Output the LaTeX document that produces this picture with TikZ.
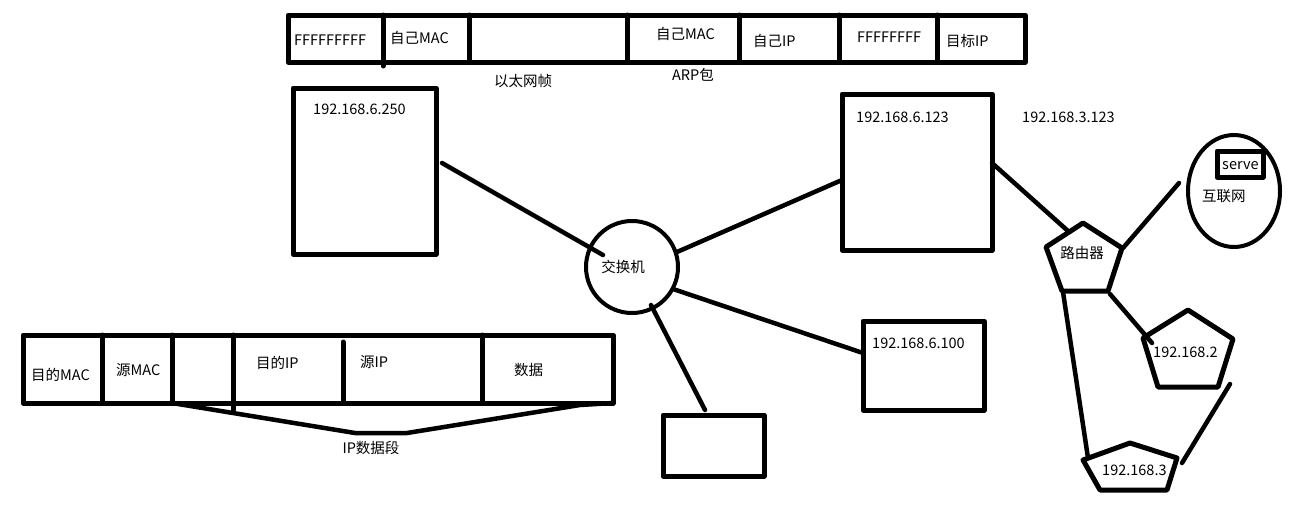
\documentclass[tikz,border=0pt]{standalone}
\usepackage{fontspec}
\setmainfont{Noto Sans CJK SC}
\usepackage{tikz}
\usepackage{tkz-euclide}
\tikzset{
	lbl/.style={anchor=west, inner sep=0pt, font=\fontsize{14.5}{16}\selectfont},
	clbl/.style={inner sep=0pt, font=\fontsize{14.5}{16}\selectfont},
	boxline/.style={line width=5pt},
	linkline/.style={line width=4.5pt, line cap=round},
}

\begin{document}
\begin{tikzpicture}[x=1pt,y=-1pt]
	\useasboundingbox (0,0) rectangle (1298,530);
	
	\tkzDefPoint(288,15){A1}; \tkzDefPoint(1025,15){A2};
	\tkzDefPoint(1025,62){A3}; \tkzDefPoint(288,62){A4};
	\tkzDrawPolygon[boxline](A1,A2,A3,A4);
	\foreach \x in {469,627,739,839,937}{
		\tkzDefPoint(\x,15){U}; \tkzDefPoint(\x,62){D};
		\tkzDrawSegment[boxline](U,D);
	}
	\tkzDefPoint(383,15){U0}; \tkzDefPoint(383,66){D0};
	\tkzDrawSegment[boxline](U0,D0);
	
	\node[lbl] (ff1) at (294,40) {FFFFFFFFF};
	\node[lbl] (mac1) at (390,38) {自己MAC};
	\node[lbl] (mac2) at (656,34) {自己MAC};
	\node[lbl] (ip1) at (753,41) {自己IP};
	\node[lbl] (ff2) at (857,37) {FFFFFFFF};
	\node[lbl] (ip2) at (946,41) {目标IP};
	\node[clbl] (eth) at (523,81) {以太网帧};
	\node[clbl] (arp) at (693,75) {ARP包};
	
	\tkzDefPoint(293,88){B1}; \tkzDefPoint(436,88){B2};
	\tkzDefPoint(436,254){B3}; \tkzDefPoint(293,254){B4};
	\tkzDrawPolygon[boxline](B1,B2,B3,B4);
	\node[lbl] (h250) at (313,109) {192.168.6.250};
	
	\tkzDefPoint(842,94){C1}; \tkzDefPoint(992,94){C2};
	\tkzDefPoint(992,250){C3}; \tkzDefPoint(842,250){C4};
	\tkzDrawPolygon[boxline](C1,C2,C3,C4);
	\node[lbl] (h123) at (856,117) {192.168.6.123};
	\node[lbl] (n3) at (1022,117) {192.168.3.123};
	
	\tkzDefPoint(863,321){E1}; \tkzDefPoint(984,321){E2};
	\tkzDefPoint(984,410){E3}; \tkzDefPoint(863,410){E4};
	\tkzDrawPolygon[boxline](E1,E2,E3,E4);
	\node[lbl] (h100) at (872,343) {192.168.6.100};
	
	\tkzDefPoint(663,415){F1}; \tkzDefPoint(764,415){F2};
	\tkzDefPoint(764,476){F3}; \tkzDefPoint(663,476){F4};
	\tkzDrawPolygon[boxline](F1,F2,F3,F4);
	
	\tkzDefPoint(632,267){S};
	\draw[line width=4pt] (S) circle [radius=46];
	\node[clbl] (sw) at (623,267) {交换机};
	
	\tkzDefPoint(442,163){L1}; \tkzDefPoint(603,255){S1};
	\tkzDefPoint(677,252){S2}; \tkzDefPoint(842,180){L2};
	\tkzDefPoint(673,289){S3}; \tkzDefPoint(863,353){L3};
	\tkzDefPoint(651,305){S4}; \tkzDefPoint(705,410){L4};
	\tkzDrawSegments[linkline](L1,S1 S2,L2 S3,L3 S4,L4);
	
	\tkzDefPoint(1083,223){R1}; \tkzDefPoint(1122,248){R2};
	\tkzDefPoint(1108,291){R3}; \tkzDefPoint(1062,291){R4};
	\tkzDefPoint(1046,247){R5};
	\tkzDrawPolygon[boxline](R1,R2,R3,R4,R5);
	\node[clbl] (rt) at (1082,253) {路由器};
	
	\tkzDefPoint(1234,191){I};
	\draw[line width=4pt] (I) ellipse [x radius=46, y radius=56];
	\tkzDefPoint(1217,151){V1}; \tkzDefPoint(1263,151){V2};
	\tkzDefPoint(1263,177){V3}; \tkzDefPoint(1217,177){V4};
	\tkzDrawPolygon[boxline](V1,V2,V3,V4);
	\node[lbl] (srv) at (1222,166) {serve};
	\node[lbl] (net) at (1202,196) {互联网};
	
	\tkzDefPoint(1188,310){P1}; \tkzDefPoint(1233,339){P2};
	\tkzDefPoint(1218,387){P3}; \tkzDefPoint(1158,387){P4};
	\tkzDefPoint(1143,338){P5};
	\tkzDrawPolygon[boxline](P1,P2,P3,P4,P5);
	\node[lbl] (n2) at (1153,352) {192.168.2};
	
	\tkzDefPoint(1130,443){Q1}; \tkzDefPoint(1177,458){Q2};
	\tkzDefPoint(1167,490){Q3}; \tkzDefPoint(1100,490){Q4};
	\tkzDefPoint(1083,460){Q5};
	\tkzDrawPolygon[boxline](Q1,Q2,Q3,Q4,Q5);
	\node[lbl] (n3b) at (1102,470) {192.168.3};
	
	\tkzDefPoint(992,163){L5}; \tkzDefPoint(1068,231){R6};
	\tkzDefPoint(1123,248){R7}; \tkzDefPoint(1179,183){I1};
	\tkzDefPoint(1110,294){R8}; \tkzDefPoint(1152,343){P6};
	\tkzDefPoint(1063,292){R9}; \tkzDefPoint(1088,458){Q6};
	\tkzDefPoint(1230,384){P7}; \tkzDefPoint(1182,463){Q7};
	\tkzDrawSegments[linkline](L5,R6 R7,I1 R8,P6 R9,Q6 P7,Q7);
	
	\tkzDefPoint(23,335){G1}; \tkzDefPoint(613,335){G2};
	\tkzDefPoint(613,403){G3}; \tkzDefPoint(23,403){G4};
	\tkzDrawPolygon[boxline](G1,G2,G3,G4);
	\foreach \x in {102,172,482}{
		\tkzDefPoint(\x,335){U}; \tkzDefPoint(\x,403){D};
		\tkzDrawSegment[boxline](U,D);
	}
	\tkzDefPoint(233,335){U1}; \tkzDefPoint(233,410){D1};
	\tkzDefPoint(343,342){U2}; \tkzDefPoint(343,403){D2};
	\tkzDrawSegments[boxline](U1,D1 U2,D2);
	
	\node[lbl] (dmac) at (31,375) {目的MAC};
	\node[lbl] (smac) at (116,370) {源MAC};
	\node[lbl] (dip) at (256,363) {目的IP};
	\node[lbl] (sip) at (360,362) {源IP};
	\node[lbl] (dat) at (514,370) {数据};
	
	\tkzDefPoint(172,403){K1}; \tkzDefPoint(355,433){K2};
	\tkzDefPoint(407,433){K3}; \tkzDefPoint(580,405){K4};
	\tkzDefPoint(613,403){K5};
	\tkzDrawPolySeg[linkline](K1,K2,K3,K4,K5);
	\node[clbl] (ipseg) at (371,448) {IP数据段};
\end{tikzpicture}
\end{document}
